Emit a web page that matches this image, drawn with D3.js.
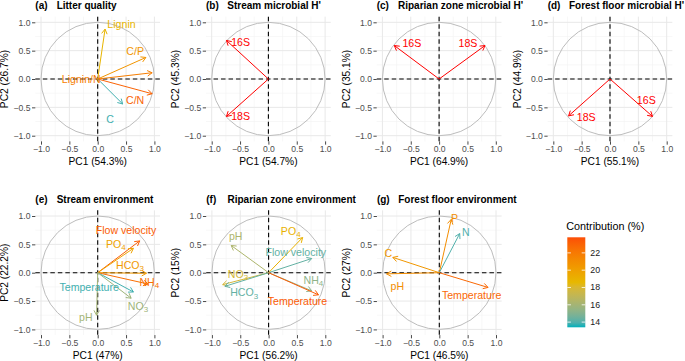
<!DOCTYPE html>
<html>
<head>
<meta charset="utf-8">
<script src="https://cdn.jsdelivr.net/npm/d3@7"></script>
<style>
  body { margin: 0; background: #fff; }
  text { font-family: "Liberation Sans", Arial, sans-serif; }
</style>
</head>
<body>
<svg id="chart" width="685" height="361"></svg>
<script>
// ---- data: variable loadings on PC1/PC2 and contribution (%) ----
const litterVars = ["Lignin", "C/P", "Lignin/N", "C/N", "C"];
const litterPC1 = [0.13, 0.85, 0.96, 0.96, 0.44];
const litterPC2 = [0.88, 0.38, 0.11, -0.26, -0.44];
const litterContrib = [18.8, 20.6, 21.8, 23.0, 13.8];

const streamMicVars = ["16S", "18S"];
const streamMicPC1 = [-0.74, -0.74];
const streamMicPC2 = [0.68, -0.66];

const riparianMicVars = ["16S", "18S"];
const riparianMicPC1 = [-0.79, 0.81];
const riparianMicPC2 = [0.59, 0.59];

const forestMicVars = ["18S", "16S"];
const forestMicPC1 = [-0.73, 0.75];
const forestMicPC2 = [-0.65, -0.66];

const streamEnvVars = ["Flow velocity", "PO₄", "HCO₃", "NH₄", "Temperature", "NO₃", "pH"];
const streamEnvPC1 = [0.74, 0.63, 0.86, 0.89, 0.63, 0.59, -0.02];
const streamEnvPC2 = [0.56, 0.43, -0.01, -0.20, -0.34, -0.45, -0.75];
const streamEnvContrib = [23.2, 19.8, 20.4, 22.5, 13.8, 15.8, 16.0];

const riparianEnvVars = ["pH", "PO₄", "Flow velocity", "NO₃", "HCO₃", "NH₄", "Temperature"];
const riparianEnvPC1 = [-0.66, 0.60, 0.76, -0.81, -0.77, 0.76, 0.88];
const riparianEnvPC2 = [0.48, 0.62, 0.25, -0.21, -0.24, -0.32, -0.39];
const riparianEnvContrib = [16.3, 19.0, 14.3, 17.8, 14.3, 15.3, 23.3];

const forestEnvVars = ["P", "N", "C", "pH", "Temperature"];
const forestEnvPC1 = [0.21, 0.36, -0.82, -0.93, 0.86];
const forestEnvPC2 = [0.94, 0.69, 0.27, -0.02, -0.26];
const forestEnvContrib = [21.0, 14.0, 20.5, 21.0, 22.8];

const pc1Var = [54.3, 54.7, 64.9, 55.1, 47, 56.2, 46.5];
const pc2Var = [26.7, 45.3, 35.1, 44.9, 22.2, 15, 27];

const legendTicks = [14, 16, 18, 20, 22];
const contribRange = [13.4, 23.8];

// ---- layout ----
const svg = d3.select("#chart");
const unit = 56.7;
const half = 1.1 * unit;
const font = "'Liberation Sans', Arial, sans-serif";

const color = d3.scaleLinear()
  .domain([contribRange[0], (contribRange[0] + contribRange[1]) / 2, contribRange[1]])
  .range(["#00AFBB", "#E7B800", "#FC4E07"])
  .interpolate(d3.interpolateLab)
  .clamp(true);

const panels = [
  { tag: "(a)", title: "Litter quality", cx: 97.7, cy: 79,
    vars: litterVars, x: litterPC1, y: litterPC2, contrib: litterContrib,
    labels: [[0.42, 0.97], [0.66, 0.49], [-0.29, 0.0], [0.66, -0.37], [0.22, -0.71]] },
  { tag: "(b)", title: "Stream microbial H'", cx: 268.4, cy: 79,
    vars: streamMicVars, x: streamMicPC1, y: streamMicPC2, fixed: "red",
    labels: [[-0.49, 0.65], [-0.49, -0.66]] },
  { tag: "(c)", title: "Riparian zone microbial H'", cx: 439.1, cy: 79,
    vars: riparianMicVars, x: riparianMicPC1, y: riparianMicPC2, fixed: "red",
    labels: [[-0.48, 0.63], [0.51, 0.63]] },
  { tag: "(d)", title: "Forest floor microbial H'", cx: 610, cy: 79,
    vars: forestMicVars, x: forestMicPC1, y: forestMicPC2, fixed: "red",
    labels: [[-0.42, -0.68], [0.64, -0.37]] },
  { tag: "(e)", title: "Stream environment", cx: 97.7, cy: 272.7,
    vars: streamEnvVars, x: streamEnvPC1, y: streamEnvPC2, contrib: streamEnvContrib,
    labels: [[0.50, 0.75], [0.32, 0.51], [0.57, 0.14], [0.91, -0.16], [-0.15, -0.26], [0.71, -0.59], [-0.21, -0.78]] },
  { tag: "(f)", title: "Riparian zone environment", cx: 268.6, cy: 272.7,
    vars: riparianEnvVars, x: riparianEnvPC1, y: riparianEnvPC2, contrib: riparianEnvContrib,
    labels: [[-0.58, 0.64], [0.39, 0.74], [0.48, 0.37], [-0.54, -0.02], [-0.43, -0.35], [0.79, -0.13], [0.51, -0.50]] },
  { tag: "(g)", title: "Forest floor environment", cx: 439.3, cy: 272.7,
    vars: forestEnvVars, x: forestEnvPC1, y: forestEnvPC2, contrib: forestEnvContrib,
    labels: [[0.27, 0.97], [0.47, 0.72], [-0.90, 0.35], [-0.74, -0.24], [0.57, -0.39]] }
];

// split "PO₄" into normal text + lowered subscript digit
const subs = { "₀": "0", "₁": "1", "₂": "2", "₃": "3", "₄": "4" };
function addLabel(sel, s) {
  const parts = [];
  for (const ch of s) {
    const sub = !!subs[ch];
    const c = sub ? subs[ch] : ch;
    if (parts.length && parts[parts.length - 1].sub === sub) parts[parts.length - 1].t += c;
    else parts.push({ t: c, sub });
  }
  parts.forEach((pt, k) => {
    const ts = sel.append("tspan").text(pt.t);
    if (pt.sub) ts.attr("dy", 2.2).style("font-size", "8px");
    else if (k > 0) ts.attr("dy", -2.2);
  });
}

panels.forEach((p, i) => {
  const g = svg.append("g");
  const x = d3.scaleLinear().domain([-1.1, 1.1]).range([p.cx - half, p.cx + half]);
  const y = d3.scaleLinear().domain([-1.1, 1.1]).range([p.cy + half, p.cy - half]);
  const left = x(-1.1), right = x(1.1), top = y(1.1), bottom = y(-1.1);

  // grid
  const minor = [-0.75, -0.25, 0.25, 0.75];
  const major = [-1, -0.5, 0, 0.5, 1];
  minor.forEach(v => {
    g.append("line").attr("x1", x(v)).attr("x2", x(v)).attr("y1", top).attr("y2", bottom)
      .attr("stroke", "#f2f2f2").attr("stroke-width", 0.6);
    g.append("line").attr("y1", y(v)).attr("y2", y(v)).attr("x1", left).attr("x2", right)
      .attr("stroke", "#f2f2f2").attr("stroke-width", 0.6);
  });
  major.forEach(v => {
    g.append("line").attr("x1", x(v)).attr("x2", x(v)).attr("y1", top).attr("y2", bottom)
      .attr("stroke", "#e8e8e8").attr("stroke-width", 1);
    g.append("line").attr("y1", y(v)).attr("y2", y(v)).attr("x1", left).attr("x2", right)
      .attr("stroke", "#e8e8e8").attr("stroke-width", 1);
  });

  // unit circle
  g.append("circle").attr("cx", x(0)).attr("cy", y(0)).attr("r", x(1) - x(0))
    .attr("fill", "none").attr("stroke", "#bdbdbd").attr("stroke-width", 1);

  // dashed zero lines
  g.append("line").attr("x1", x(0)).attr("x2", x(0)).attr("y1", top).attr("y2", bottom)
    .attr("stroke", "#000").attr("stroke-width", 1.1).attr("stroke-dasharray", "4.5,3");
  g.append("line").attr("y1", y(0)).attr("y2", y(0)).attr("x1", left).attr("x2", right)
    .attr("stroke", "#000").attr("stroke-width", 1.1).attr("stroke-dasharray", "4.5,3");

  // axes
  const fmt = d3.format(".1f");
  const ax = g.append("g").attr("transform", `translate(0,${bottom})`)
    .call(d3.axisBottom(x).tickValues(major).tickFormat(fmt).tickSize(3.3).tickPadding(1.5));
  const ay = g.append("g").attr("transform", `translate(${left},0)`)
    .call(d3.axisLeft(y).tickValues(major).tickFormat(fmt).tickSize(3.3).tickPadding(1.5));
  [ax, ay].forEach(a => {
    a.select(".domain").remove();
    a.selectAll(".tick line").attr("stroke", "#333").attr("stroke-width", 0.9);
    a.selectAll(".tick text").attr("fill", "#4d4d4d").style("font-size", "8.6px").style("font-family", font);
  });

  // axis titles
  g.append("text").attr("x", p.cx).attr("y", bottom + 23.5)
    .attr("text-anchor", "middle").style("font-size", "10.2px").attr("fill", "#000")
    .text(`PC1 (${pc1Var[i]}%)`);
  g.append("text").attr("transform", `translate(${left - 27},${p.cy}) rotate(-90)`)
    .attr("text-anchor", "middle").style("font-size", "10.2px").attr("fill", "#000")
    .text(`PC2 (${pc2Var[i]}%)`);

  // panel title
  g.append("text").attr("x", left).attr("y", top - 7.5)
    .style("font-size", "10px").style("font-weight", "bold").text(p.tag);
  g.append("text").attr("x", left + 21.3).attr("y", top - 7.5)
    .style("font-size", "10px").style("font-weight", "bold").text(p.title);

  // arrows
  const col = j => p.fixed ? p.fixed : color(p.contrib[j]);
  p.vars.forEach((v, j) => {
    const x0 = x(0), y0 = y(0), x1 = x(p.x[j]), y1 = y(p.y[j]);
    const a = Math.atan2(y1 - y0, x1 - x0);
    const L = 5.5, w = Math.PI / 6;
    const h1 = [x1 - L * Math.cos(a - w), y1 - L * Math.sin(a - w)];
    const h2 = [x1 - L * Math.cos(a + w), y1 - L * Math.sin(a + w)];
    g.append("line").attr("x1", x0).attr("y1", y0).attr("x2", x1).attr("y2", y1)
      .attr("stroke", col(j)).attr("stroke-width", 1);
    g.append("path").attr("d", `M${h1[0]},${h1[1]}L${x1},${y1}L${h2[0]},${h2[1]}`)
      .attr("fill", "none").attr("stroke", col(j)).attr("stroke-width", 1);
  });
  p.vars.forEach((v, j) => {
    const t = g.append("text").attr("x", x(p.labels[j][0])).attr("y", y(p.labels[j][1]) + 3.8)
      .attr("text-anchor", "middle")
      .style("font-size", "10.6px").attr("fill", col(j));
    addLabel(t, v);
  });
});

// ---- legend ----
const lg = svg.append("g");
const barX = 567.3, barW = 18, barTop = 237.3, barH = 90;
const ly = d3.scaleLinear().domain(contribRange).range([barTop + barH, barTop]);
const defs = svg.append("defs");
const grad = defs.append("linearGradient").attr("id", "contribGrad")
  .attr("x1", 0).attr("x2", 0).attr("y1", 1).attr("y2", 0);
d3.range(0, 1.0001, 0.05).forEach(t => {
  const v = contribRange[0] + t * (contribRange[1] - contribRange[0]);
  grad.append("stop").attr("offset", t).attr("stop-color", color(v));
});
lg.append("text").attr("x", barX - 1).attr("y", barTop - 7)
  .style("font-size", "10.8px").attr("fill", "#000").text("Contribution (%)");
lg.append("rect").attr("x", barX).attr("y", barTop).attr("width", barW).attr("height", barH)
  .attr("fill", "url(#contribGrad)");
legendTicks.forEach(t => {
  lg.append("line").attr("x1", barX).attr("x2", barX + 3.6).attr("y1", ly(t)).attr("y2", ly(t))
    .attr("stroke", "#fff").attr("stroke-width", 0.8);
  lg.append("line").attr("x1", barX + barW - 3.6).attr("x2", barX + barW).attr("y1", ly(t)).attr("y2", ly(t))
    .attr("stroke", "#fff").attr("stroke-width", 0.8);
  lg.append("text").attr("x", barX + barW + 5).attr("y", ly(t))
    .attr("dominant-baseline", "central").style("font-size", "8.8px").attr("fill", "#1a1a1a").text(t);
});
</script>
</body>
</html>
